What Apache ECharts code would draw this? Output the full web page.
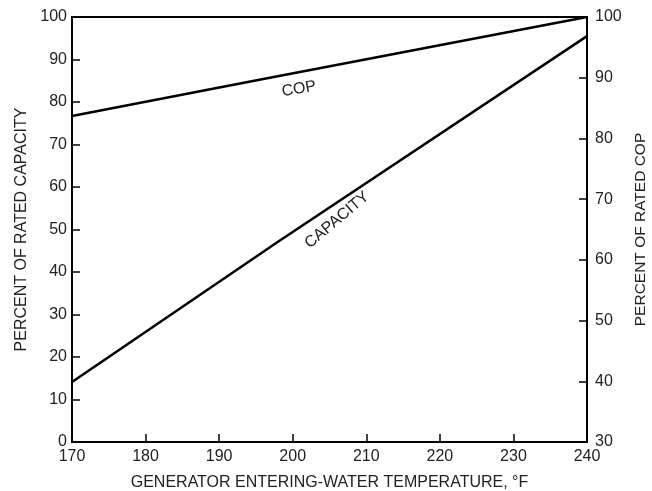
<!DOCTYPE html>
<html>
<head>
<meta charset="utf-8">
<script src="https://cdn.jsdelivr.net/npm/echarts@6/dist/echarts.min.js"></script>
<style>
  html, body { margin: 0; padding: 0; background: #fff; }
  #main { width: 652px; height: 491px; }
</style>
</head>
<body>
<div id="main"></div>
<script>
// data
const capacityTemps = [170, 198, 240];
const capacityValues = [14.1, 47.1, 95.5]; // percent of rated capacity (left axis)
const copTemps = [170, 196, 240];
const copValues = [83.7, 89.8, 100]; // percent of rated COP (right axis)
const xTicks = [170, 180, 190, 200, 210, 220, 230, 240];

const font = "Liberation Sans, Arial, sans-serif";
const chart = echarts.init(document.getElementById("main"));

const axisCommon = {
  axisLine: { show: true, lineStyle: { color: "#000", width: 2 } },
  axisTick: { show: true, inside: true, length: 8, lineStyle: { color: "#000", width: 1.5 } },
  axisLabel: { color: "#222", fontSize: 16, fontFamily: font },
  splitLine: { show: false },
  nameTextStyle: { color: "#222", fontSize: 16, fontFamily: font },
};

const option = {
  animation: false,
  grid: {
    left: 72, right: 65, top: 17, bottom: 49,
    outerBoundsMode: "none",
    containLabel: false,
    show: true, borderColor: "#000", borderWidth: 2,
  },
  xAxis: {
    type: "value",
    min: xTicks[0],
    max: xTicks[xTicks.length - 1],
    interval: 10,
    name: "GENERATOR ENTERING-WATER TEMPERATURE, °F",
    nameLocation: "middle",
    nameGap: 33,
    ...axisCommon,
    axisLabel: { ...axisCommon.axisLabel, margin: 7 },
  },
  yAxis: [
    {
      type: "value", min: 0, max: 100, interval: 10, position: "left",
      name: "PERCENT OF RATED CAPACITY", nameLocation: "middle", nameGap: 38,
      ...axisCommon,
      axisLabel: { ...axisCommon.axisLabel, margin: 5 },
    },
    {
      type: "value", min: 30, max: 100, interval: 10, position: "right",
      name: "PERCENT OF RATED COP", nameLocation: "middle", nameGap: 40, nameRotate: 90,
      ...axisCommon,
      nameTextStyle: { ...axisCommon.nameTextStyle, fontSize: 15.5 },
      axisLabel: { ...axisCommon.axisLabel, margin: 8 },
    },
  ],
  series: [
    {
      name: "CAPACITY", type: "line", yAxisIndex: 0, symbol: "none",
      lineStyle: { color: "#000", width: 2.5 },
      data: capacityTemps.map((t, i) => [t, capacityValues[i]]),
    },
    {
      name: "COP", type: "line", yAxisIndex: 1, symbol: "none",
      lineStyle: { color: "#000", width: 2.5 },
      data: copTemps.map((t, i) => [t, copValues[i]]),
    },
  ],
  graphic: [
    {
      type: "text", x: 299, y: 89, rotation: 10 * Math.PI / 180,
      style: { text: "COP", fill: "#222", font: "16px " + font, textAlign: "center", textVerticalAlign: "middle" },
    },
    {
      type: "text", x: 337, y: 220, rotation: 40 * Math.PI / 180,
      style: { text: "CAPACITY", fill: "#222", font: "16px " + font, textAlign: "center", textVerticalAlign: "middle" },
    },
  ],
};

chart.setOption(option);
</script>
</body>
</html>
